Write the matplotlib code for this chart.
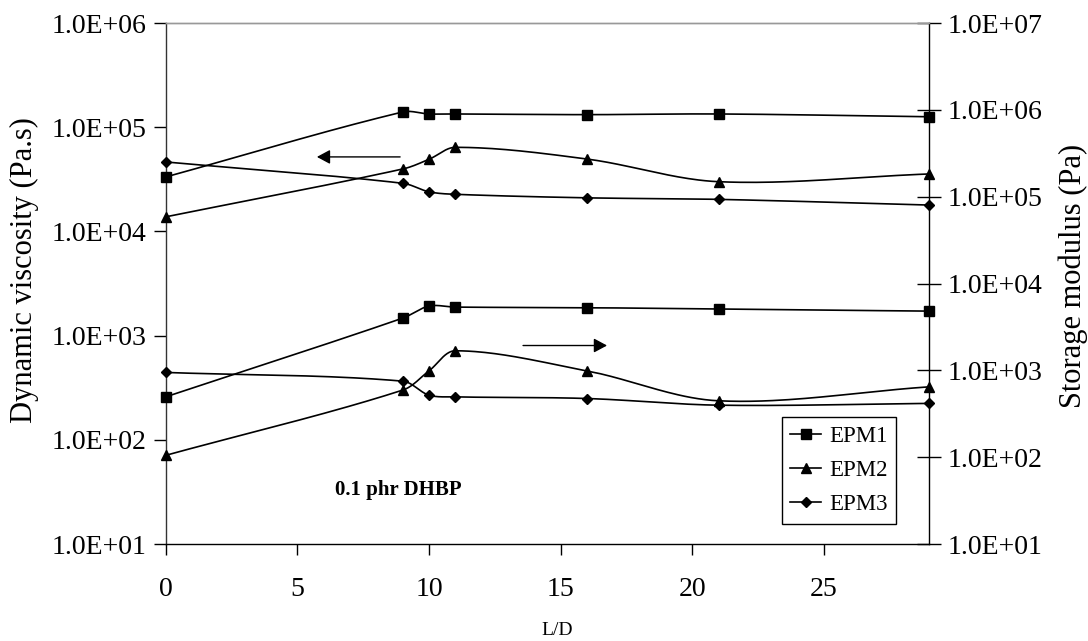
import numpy as np
import matplotlib
matplotlib.use("Agg")
import matplotlib.pyplot as plt
from matplotlib.ticker import FixedLocator, FuncFormatter, NullLocator
from matplotlib.lines import Line2D

# L/D positions along the extruder
ld = [0, 9, 10, 11, 16, 21, 29]

# Dynamic viscosity (Pa.s), left axis
visc_epm1 = [3.33e4, 1.40e5, 1.34e5, 1.34e5, 1.32e5, 1.34e5, 1.26e5]
visc_epm2 = [1.38e4, 3.97e4, 4.92e4, 6.41e4, 4.95e4, 3.00e4, 3.56e4]
visc_epm3 = [4.64e4, 2.90e4, 2.40e4, 2.27e4, 2.10e4, 2.03e4, 1.79e4]

# Storage modulus (Pa), right axis
mod_epm1 = [495, 3.99e3, 5.50e3, 5.35e3, 5.27e3, 5.07e3, 4.81e3]
mod_epm2 = [105, 592, 986, 1680, 986, 446, 646]
mod_epm3 = [946, 751, 518, 495, 474, 397, 416]

series_names = ["EPM1", "EPM2", "EPM3"]
series_markers = ["s", "^", "D"]
series_msize = [6.5, 7.0, 5.0]

FONT = "Liberation Serif"
plt.rcParams["font.family"] = [FONT, "DejaVu Serif"]


def smooth_curve(axis, x, y, n=40):
    """Chord-scaled Bezier smoothing computed in display space."""
    pts = axis.transData.transform(np.column_stack([x, y]))
    p = np.vstack([pts[0], pts, pts[-1]])
    t = np.linspace(0, 1, n)[:, None]
    out = []
    for i in range(1, len(p) - 2):
        p0, p1, p2, p3 = p[i - 1], p[i], p[i + 1], p[i + 2]
        d01 = np.hypot(*(p1 - p0))
        d12 = np.hypot(*(p2 - p1))
        d23 = np.hypot(*(p3 - p2))
        f1 = d12 / (d01 + d12) if d01 + d12 > 0 else 0.5
        f2 = d12 / (d12 + d23) if d12 + d23 > 0 else 0.5
        c1 = p1 + (p2 - p0) * f1 / 3.0
        c2 = p2 - (p3 - p1) * f2 / 3.0
        seg = ((1 - t) ** 3) * p1 + 3 * ((1 - t) ** 2) * t * c1 \
            + 3 * (1 - t) * (t ** 2) * c2 + (t ** 3) * p2
        out.append(seg if i == 1 else seg[1:])
    seg = np.vstack(out)
    data = axis.transData.inverted().transform(seg)
    return data[:, 0], data[:, 1]


fig = plt.figure(figsize=(10.88, 6.41), dpi=100)
ax = fig.add_axes([0.1523, 0.1513, 0.7018, 0.8128])
ax2 = ax.twinx()

fmt = FuncFormatter(lambda v, pos: f"{v:.1E}")

ax.set_xlim(0, 29)
ax.set_yscale("log")
ax.set_ylim(1e1, 1e6)
ax.yaxis.set_major_locator(FixedLocator([1e1, 1e2, 1e3, 1e4, 1e5, 1e6]))
ax.yaxis.set_minor_locator(NullLocator())
ax.yaxis.set_major_formatter(fmt)
ax.set_xticks([0, 5, 10, 15, 20, 25])

ax2.set_xlim(0, 29)
ax2.set_yscale("log")
ax2.set_ylim(1e1, 1e7)
ax2.yaxis.set_major_locator(FixedLocator([1e1, 1e2, 1e3, 1e4, 1e5, 1e6, 1e7]))
ax2.yaxis.set_minor_locator(NullLocator())
ax2.yaxis.set_major_formatter(fmt)

lw = 1.2
for vals, mk, ms in zip([visc_epm1, visc_epm2, visc_epm3], series_markers, series_msize):
    sx, sy = smooth_curve(ax, ld, vals)
    ax.plot(sx, sy, color="black", lw=lw, zorder=3)
    ax.plot(ld, vals, linestyle="none", marker=mk, markersize=ms,
            color="black", zorder=4, clip_on=False)

for vals, mk, ms in zip([mod_epm1, mod_epm2, mod_epm3], series_markers, series_msize):
    sx, sy = smooth_curve(ax2, ld, vals)
    ax2.plot(sx, sy, color="black", lw=lw, zorder=3)
    ax2.plot(ld, vals, linestyle="none", marker=mk, markersize=ms,
             color="black", zorder=4, clip_on=False)

tick_fs = 20
ax.tick_params(axis="y", direction="out", length=9, width=1, pad=5,
               labelsize=tick_fs, colors="black")
ax.tick_params(axis="x", direction="out", length=8, width=1, pad=16,
               labelsize=tick_fs, colors="black")
ax2.tick_params(axis="y", direction="inout", length=17, width=1, pad=5,
                labelsize=tick_fs, colors="black")

for a in (ax, ax2):
    for s in a.spines.values():
        s.set_linewidth(1.0)
    a.spines["top"].set_color("#999999")
ax.spines["right"].set_visible(False)
ax2.spines["left"].set_visible(False)
ax2.spines["bottom"].set_visible(False)
ax.spines["left"].set_color("#333333")

ax.set_ylabel("Dynamic viscosity (Pa.s)", fontsize=22)
ax.yaxis.set_label_coords(-0.166, 0.525)
ax2.set_ylabel("Storage modulus (Pa)", fontsize=22, rotation=90)
ax2.yaxis.set_label_coords(1.169, 0.515)
ax.set_xlabel("L/D", fontsize=14)
ax.xaxis.set_label_coords(0.512, -0.150)

# direction arrows pointing to each curve family's axis
arrow_style = dict(arrowstyle="-|>,head_length=0.8,head_width=0.43",
                   color="black", lw=1.0, mutation_scale=10,
                   shrinkA=0, shrinkB=0)
ax.annotate("", xy=(0.198, 0.743), xytext=(0.307, 0.743),
            xycoords="axes fraction", arrowprops=arrow_style)
ax.annotate("", xy=(0.578, 0.381), xytext=(0.468, 0.381),
            xycoords="axes fraction", arrowprops=arrow_style)

ax.text(0.222, 0.104, "0.1 phr DHBP", transform=ax.transAxes, fontsize=15,
        fontweight="bold", ha="left", va="center")

handles = [Line2D([], [], color="black", lw=lw, marker=mk, markersize=ms)
           for mk, ms in zip(series_markers, series_msize)]
leg = ax2.legend(handles, series_names, loc="upper left",
                 bbox_to_anchor=(0.807, 0.243), borderaxespad=0,
                 fontsize=16.5, frameon=True, fancybox=False, edgecolor="black",
                 framealpha=1, handlelength=1.35, handletextpad=0.35,
                 labelspacing=0.58, borderpad=0.36)
leg.get_frame().set_linewidth(1.0)

fig.savefig("out.png", dpi=100)
